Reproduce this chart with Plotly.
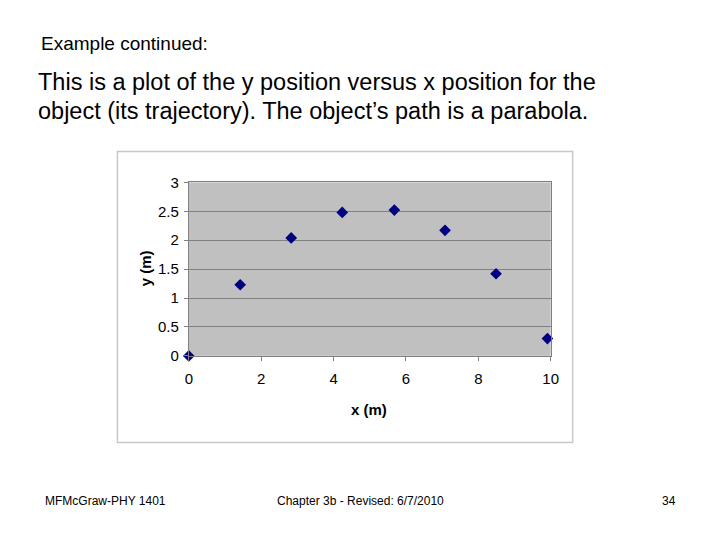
import plotly.graph_objects as go

# trajectory samples
x_pos = [0, 1.42, 2.83, 4.24, 5.68, 7.08, 8.49, 9.91]
y_pos = [0, 1.23, 2.04, 2.48, 2.52, 2.17, 1.42, 0.30]

x_ticks = [0, 2, 4, 6, 8, 10]
y_ticks = [0, 0.5, 1, 1.5, 2, 2.5, 3]
y_tick_labels = ["0", "0.5", "1", "1.5", "2", "2.5", "3"]

W, H = 720, 540
FONT = "Liberation Sans, Arial, sans-serif"

# the page comes out slightly shrunk and shifted, so map target pixels back
SX, OX = 0.985, 11.4
SY, OY = 0.974, 14.7


def px_x(v):
    return ((v - OX) / SX) / W


def px_y(v):
    return 1 - ((v - OY) / SY) / H


fig = go.Figure()

fig.add_scatter(
    x=x_pos,
    y=y_pos,
    mode="markers",
    marker=dict(symbol="diamond", size=9, color="#000080"),
    cliponaxis=False,
    showlegend=False,
)

axis_common = dict(
    showline=True,
    linecolor="#808080",
    linewidth=1,
    mirror=True,
    ticks="outside",
    ticklen=4,
    tickcolor="#808080",
    tickfont=dict(family=FONT, size=15, color="#000000"),
    zeroline=False,
)

fig.update_xaxes(
    range=[0, 10],
    tickvals=x_ticks,
    showgrid=False,
    ticklabelstandoff=5,
    domain=[px_x(188.5), px_x(551)],
    **axis_common
)
fig.update_yaxes(
    range=[0, 3],
    tickvals=y_ticks,
    ticktext=y_tick_labels,
    showgrid=True,
    gridcolor="#808080",
    gridwidth=1,
    ticklabelstandoff=2,
    domain=[px_y(355.5), px_y(181)],
    **axis_common
)

# outer chart frame
fig.add_shape(
    type="rect", xref="paper", yref="paper",
    x0=px_x(117), x1=px_x(573), y0=px_y(442.5), y1=px_y(150),
    line=dict(color="#c8c8c8", width=1.5), fillcolor="rgba(0,0,0,0)", layer="below",
)

texts = [
    (38, 41, "Example continued:", 19, "left"),
    (35, 80, "This is a plot of the y position versus x position for the", 23.5, "left"),
    (35, 109, "object (its trajectory). The object\u2019s path is a parabola.", 23.5, "left"),
    (42, 501, "MFMcGraw-PHY 1401", 12, "left"),
    (275, 501, "Chapter 3b - Revised: 6/7/2010", 12, "left"),
    (679, 501, "34", 12, "right"),
]
for x, y, t, size, anchor in texts:
    fig.add_annotation(
        x=px_x(x), y=px_y(y), xref="paper", yref="paper",
        text=t, showarrow=False, xanchor=anchor, yanchor="middle",
        font=dict(family=FONT, size=size, color="#000000"),
    )

# axis titles
fig.add_annotation(
    x=px_x(369), y=px_y(409), xref="paper", yref="paper",
    text="<b>x (m)</b>", showarrow=False, xanchor="center", yanchor="middle",
    font=dict(family=FONT, size=15, color="#000000"),
)
fig.add_annotation(
    x=px_x(146), y=px_y(267), xref="paper", yref="paper",
    text="<b>y (m)</b>", showarrow=False, xanchor="center", yanchor="middle",
    textangle=-90,
    font=dict(family=FONT, size=15, color="#000000"),
)

fig.update_layout(
    width=W,
    height=H,
    margin=dict(l=0, r=0, t=0, b=0),
    paper_bgcolor="white",
    plot_bgcolor="#c0c0c0",
    showlegend=False,
)

fig.write_html("out.html")
